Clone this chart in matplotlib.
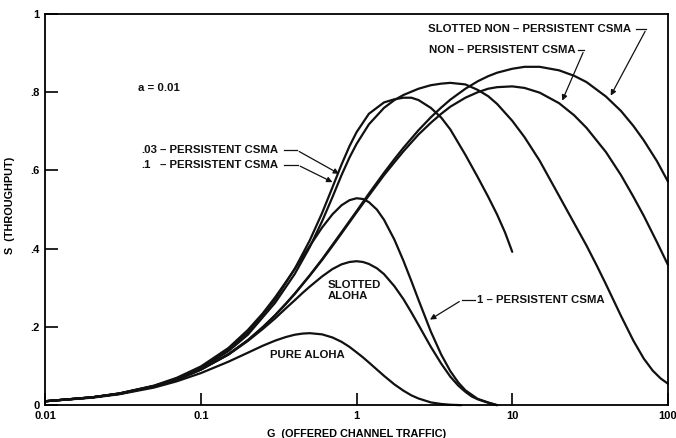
import matplotlib
matplotlib.use("Agg")
import matplotlib.pyplot as plt
from matplotlib.ticker import NullLocator

plt.rcParams['font.family'] = ['Liberation Sans', 'DejaVu Sans']

# throughput S vs offered traffic G, a = 0.01
G_PURE = [0.01, 0.02, 0.03, 0.05, 0.07, 0.1, 0.15, 0.2, 0.25, 0.3, 0.35, 0.4, 0.45, 0.5,
          0.6, 0.7, 0.8, 0.9, 1, 1.1, 1.2, 1.35, 1.5, 1.75, 2, 2.25, 2.5, 3, 3.5, 4, 4.7]
S_PURE = [0.010, 0.019, 0.028, 0.045, 0.061, 0.082, 0.111, 0.134, 0.152, 0.165, 0.174,
          0.180, 0.183, 0.184, 0.181, 0.173, 0.162, 0.149, 0.135, 0.122, 0.109, 0.091,
          0.075, 0.053, 0.037, 0.025, 0.017, 0.007, 0.003, 0.001, 0.0]

G_SLOTTED = [0.01, 0.02, 0.03, 0.05, 0.07, 0.1, 0.15, 0.2, 0.25, 0.3, 0.35, 0.4, 0.45,
             0.5, 0.6, 0.7, 0.8, 0.9, 1, 1.1, 1.2, 1.35, 1.5, 1.75, 2, 2.25, 2.5, 3, 3.5,
             4, 4.5, 5, 5.5, 6, 7, 8]
S_SLOTTED = [0.010, 0.020, 0.029, 0.048, 0.065, 0.091, 0.129, 0.164, 0.195, 0.222, 0.247,
             0.268, 0.287, 0.303, 0.329, 0.348, 0.360, 0.366, 0.368, 0.366, 0.361, 0.350,
             0.335, 0.304, 0.271, 0.237, 0.205, 0.149, 0.106, 0.073, 0.050, 0.034, 0.022,
             0.015, 0.006, 0.0]

G_1P = [0.01, 0.02, 0.03, 0.05, 0.07, 0.1, 0.15, 0.2, 0.25, 0.3, 0.35, 0.4, 0.45, 0.5,
        0.6, 0.7, 0.8, 0.9, 1, 1.1, 1.2, 1.35, 1.5, 1.75, 2, 2.25, 2.5, 3, 3.5, 4, 4.5,
        5, 6, 7, 8]
S_1P = [0.010, 0.020, 0.030, 0.050, 0.070, 0.099, 0.146, 0.192, 0.235, 0.276, 0.314,
        0.348, 0.379, 0.407, 0.454, 0.488, 0.511, 0.524, 0.529, 0.527, 0.519, 0.500,
        0.474, 0.423, 0.369, 0.317, 0.269, 0.188, 0.129, 0.087, 0.058, 0.038, 0.016,
        0.007, 0.0]

G_P10 = [0.01, 0.02, 0.03, 0.05, 0.07, 0.1, 0.15, 0.2, 0.3, 0.4, 0.5, 0.6, 0.7, 0.8, 0.9,
         1.0, 1.2, 1.5, 1.75, 2.0, 2.25, 2.5, 3.0, 3.5, 4.0, 5.0, 6.0, 7.0, 8.0, 9.0, 10.0]
S_P10 = [0.010, 0.020, 0.030, 0.049, 0.068, 0.096, 0.142, 0.186, 0.270, 0.348, 0.421,
         0.491, 0.557, 0.615, 0.662, 0.698, 0.745, 0.774, 0.782, 0.786, 0.786, 0.780,
         0.760, 0.735, 0.705, 0.640, 0.583, 0.533, 0.487, 0.441, 0.392]

G_P03 = [0.01, 0.02, 0.03, 0.05, 0.07, 0.1, 0.15, 0.2, 0.3, 0.4, 0.5, 0.6, 0.7, 0.8, 0.9,
         1.0, 1.2, 1.5, 1.75, 2.0, 2.5, 3.0, 3.5, 4.0, 5.0, 6.0, 7.0, 8.0, 10, 12, 15, 20,
         25, 30, 35, 40, 50, 60, 70, 80, 90, 100]
S_P03 = [0.010, 0.020, 0.030, 0.049, 0.068, 0.094, 0.138, 0.180, 0.262, 0.335, 0.404,
         0.470, 0.532, 0.588, 0.633, 0.668, 0.718, 0.760, 0.780, 0.793, 0.809, 0.818,
         0.822, 0.824, 0.820, 0.806, 0.790, 0.770, 0.727, 0.685, 0.625, 0.535, 0.465,
         0.408, 0.356, 0.309, 0.228, 0.165, 0.119, 0.088, 0.068, 0.055]

G_NP = [0.01, 0.02, 0.03, 0.05, 0.07, 0.1, 0.15, 0.2, 0.25, 0.3, 0.35, 0.4, 0.5, 0.6, 0.7,
        0.8, 1, 1.2, 1.5, 1.75, 2, 2.5, 3, 3.5, 4, 5, 6, 7, 8, 10, 12, 15, 20, 25, 30, 40,
        50, 60, 70, 85, 100]
S_NP = [0.010, 0.020, 0.029, 0.048, 0.065, 0.091, 0.130, 0.166, 0.199, 0.230, 0.258,
        0.284, 0.331, 0.371, 0.407, 0.439, 0.493, 0.536, 0.588, 0.621, 0.649, 0.692,
        0.722, 0.745, 0.763, 0.786, 0.800, 0.809, 0.813, 0.815, 0.811, 0.799, 0.772,
        0.741, 0.709, 0.647, 0.588, 0.533, 0.484, 0.417, 0.359]
S_SNP = [0.010, 0.020, 0.029, 0.048, 0.065, 0.091, 0.130, 0.166, 0.200, 0.230, 0.259,
         0.285, 0.332, 0.373, 0.410, 0.442, 0.496, 0.541, 0.594, 0.629, 0.658, 0.703,
         0.736, 0.761, 0.781, 0.809, 0.828, 0.841, 0.850, 0.860, 0.865, 0.865, 0.856,
         0.842, 0.826, 0.789, 0.752, 0.714, 0.677, 0.624, 0.572]

X_TICKS = [0.01, 0.1, 1, 10, 100]
X_TICK_LABELS = ['0.01', '0.1', '1', '10', '100']
Y_TICKS = [0, 0.2, 0.4, 0.6, 0.8, 1.0]
Y_TICK_LABELS = ['0', '.2', '.4', '.6', '.8', '1']

curves = [(G_PURE, S_PURE), (G_SLOTTED, S_SLOTTED), (G_1P, S_1P), (G_P10, S_P10),
          (G_P03, S_P03), (G_NP, S_NP), (G_NP, S_SNP)]

fig = plt.figure(figsize=(6.76, 4.38), dpi=100)
ax = fig.add_axes([0.067, 0.075, 0.921, 0.893])

for g, s in curves:
    ax.plot(g, s, color='#111111', lw=1.6, clip_on=False,
            solid_capstyle='round', solid_joinstyle='round')

ax.set_xscale('log')
ax.set_xlim(0.01, 100)
ax.set_ylim(0, 1)
ax.set_xticks(X_TICKS)
ax.set_xticklabels(X_TICK_LABELS)
ax.xaxis.set_minor_locator(NullLocator())
ax.set_yticks(Y_TICKS)
ax.set_yticklabels(Y_TICK_LABELS)
ax.tick_params(direction='in', length=9, width=1.2, labelsize=8, pad=4)
for lab in ax.get_xticklabels() + ax.get_yticklabels():
    lab.set_fontweight('bold')
for sp in ax.spines.values():
    sp.set_linewidth(1.3)

ax.set_xlabel('G  (OFFERED CHANNEL TRAFFIC)', fontsize=7.8, fontweight='bold', labelpad=6)
ax.set_ylabel('S  (THROUGHPUT)', fontsize=7.8, fontweight='bold')
ax.yaxis.set_label_coords(-0.048, 0.51)

txt = dict(fontsize=8.2, fontweight='bold', color='#111111')
arr = dict(arrowstyle='-|>', color='#111111', lw=0.9, mutation_scale=8)
seg = dict(color='#111111', lw=0.9, clip_on=False)

ax.text(0.0537, 0.811, 'a = 0.01', ha='center', va='center', **txt)

ax.text(0.0411, 0.652, '.03', ha='left', va='center', **txt)
ax.text(0.0545, 0.652, '– PERSISTENT CSMA', ha='left', va='center', **txt)
ax.text(0.0411, 0.614, '.1', ha='left', va='center', **txt)
ax.text(0.0545, 0.614, '– PERSISTENT CSMA', ha='left', va='center', **txt)
ax.plot([0.34, 0.4125], [0.652, 0.652], **seg)
ax.annotate('', xy=(0.80, 0.588), xytext=(0.4125, 0.652), arrowprops=arr)
ax.plot([0.34, 0.419], [0.614, 0.614], **seg)
ax.annotate('', xy=(0.726, 0.567), xytext=(0.419, 0.614), arrowprops=arr)

ax.text(2.86, 0.962, 'SLOTTED NON – PERSISTENT CSMA', ha='left', va='center', **txt)
ax.plot([62.5, 72.8], [0.962, 0.962], **seg)
ax.annotate('', xy=(42.1, 0.785), xytext=(72.8, 0.962), arrowprops=arr)

ax.text(2.9, 0.908, 'NON – PERSISTENT CSMA', ha='left', va='center', **txt)
ax.plot([26.6, 29.0], [0.908, 0.908], **seg)
ax.annotate('', xy=(20.6, 0.772), xytext=(29.0, 0.908), arrowprops=arr)

ax.text(5.9, 0.2685, '1 – PERSISTENT CSMA', ha='left', va='center', **txt)
ax.plot([4.73, 5.73], [0.2685, 0.2685], **seg)
ax.annotate('', xy=(2.86, 0.215), xytext=(4.73, 0.2685), arrowprops=arr)

ax.text(0.652, 0.293, 'SLOTTED\nALOHA', ha='left', va='center', linespacing=1.05, **txt)
ax.text(0.2767, 0.128, 'PURE ALOHA', ha='left', va='center', **txt)

fig.savefig('out.png', dpi=100)
